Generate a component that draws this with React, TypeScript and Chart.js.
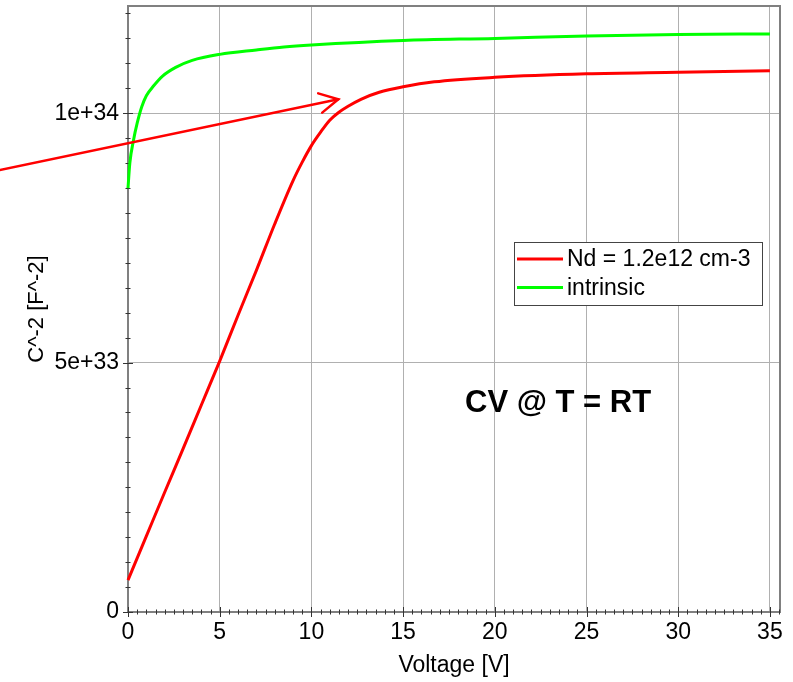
import React, { useEffect, useRef } from 'react';
import { Chart, registerables } from 'chart.js';

Chart.register(...registerables);

// ---- data ----
const seriesLabels = ['Nd = 1.2e12 cm-3', 'intrinsic'];
const seriesColors = ['#ff0000', '#00ff00'];

const voltageNd = [0, 1, 2, 3, 4, 5, 6, 7, 8, 9, 9.5, 10, 10.5, 11, 11.5, 12, 12.7, 13.7, 15, 16.7, 20, 25, 30, 35];
const cvNd = [0.64e33, 1.52e33, 2.4e33, 3.27e33, 4.15e33, 5.03e33, 5.95e33, 6.85e33, 7.78e33, 8.65e33, 9.02e33, 9.35e33, 9.62e33, 9.86e33, 10.02e33, 10.14e33, 10.28e33, 10.42e33, 10.53e33, 10.63e33, 10.72e33, 10.79e33, 10.82e33, 10.85e33];

const voltageIntrinsic = [0, 0.1, 0.3, 0.5, 0.75, 1.0, 1.4, 1.9, 2.6, 3.5, 5, 7, 8.5, 10, 15, 20, 25, 30, 35];
const cvIntrinsic = [8.5e33, 9.0e33, 9.46e33, 9.8e33, 10.13e33, 10.35e33, 10.55e33, 10.75e33, 10.92e33, 11.06e33, 11.18e33, 11.27e33, 11.33e33, 11.37e33, 11.46e33, 11.5e33, 11.55e33, 11.58e33, 11.59e33];

const xTicks = [0, 5, 10, 15, 20, 25, 30, 35];
const yTicks = [0, 5e33, 1e34];
const xMinorStep = 0.5;
const yMinorStep = 5e32;
const xRange = [0, 35.55];
const yRange = [0, 1.215e34];

const xTitle = 'Voltage [V]';
const yTitle = 'C^-2 [F^-2]';

const arrowFrom = [-7, 8.862e33];
const arrowTo = [11.47, 1.0281e34];
const noteText = 'CV @ T = RT';
const notePos = [23.45, 4.013e33];

const FONT = "'Liberation Sans', Arial, sans-serif";

const frameColor = '#808080';

const framePlugin = {
  id: 'frame',
  beforeDatasetsDraw(chart: any) {
    const { ctx, chartArea: ca, scales } = chart;
    const x = scales.x;
    const y = scales.y;
    ctx.save();
    ctx.strokeStyle = frameColor;
    ctx.lineWidth = 2;
    ctx.strokeRect(ca.left, ca.top, ca.right - ca.left, ca.bottom - ca.top);
    ctx.strokeStyle = '#333';
    ctx.lineWidth = 1;
    for (let v = xRange[0]; v <= xRange[1] + 1e-9; v += xMinorStep) {
      const px = Math.round(x.getPixelForValue(v)) + 0.5;
      const isMajor = xTicks.some((t) => Math.abs(t - v) < 1e-6);
      const h = isMajor ? 5 : 2.5;
      ctx.beginPath();
      ctx.moveTo(px, ca.bottom - h);
      ctx.lineTo(px, ca.bottom + h);
      ctx.stroke();
    }
    for (let v = yRange[0]; v <= yRange[1] + 1e20; v += yMinorStep) {
      const py = Math.round(y.getPixelForValue(v)) + 0.5;
      const isMajor = yTicks.some((t) => Math.abs(t - v) < 1e20);
      const w = isMajor ? 5 : 2.5;
      ctx.beginPath();
      ctx.moveTo(ca.left - w, py);
      ctx.lineTo(ca.left + w, py);
      ctx.stroke();
    }
    ctx.restore();
  },
  afterDatasetsDraw(chart: any) {
    const { ctx, chartArea: ca, scales } = chart;
    const x = scales.x;
    const y = scales.y;
    ctx.save();
    const x0 = x.getPixelForValue(arrowFrom[0]);
    const y0 = y.getPixelForValue(arrowFrom[1]);
    const x1 = x.getPixelForValue(arrowTo[0]);
    const y1 = y.getPixelForValue(arrowTo[1]);
    ctx.strokeStyle = '#ff0000';
    ctx.lineWidth = 2.5;
    ctx.lineCap = 'round';
    ctx.beginPath();
    ctx.moveTo(x0, y0);
    ctx.lineTo(x1, y1);
    ctx.stroke();
    const ang = Math.atan2(y1 - y0, x1 - x0);
    const hl = 21;
    const ha = (28 * Math.PI) / 180;
    ctx.beginPath();
    ctx.moveTo(x1 - hl * Math.cos(ang - ha), y1 - hl * Math.sin(ang - ha));
    ctx.lineTo(x1, y1);
    ctx.lineTo(x1 - hl * Math.cos(ang + ha), y1 - hl * Math.sin(ang + ha));
    ctx.stroke();

    ctx.fillStyle = '#000';
    ctx.font = `bold 31px ${FONT}`;
    ctx.textAlign = 'center';
    ctx.textBaseline = 'alphabetic';
    ctx.fillText(noteText, x.getPixelForValue(notePos[0]), y.getPixelForValue(notePos[1]));

    const bx = ca.right - 266;
    const by = ca.top + 236;
    const bw = 248;
    const bh = 63;
    ctx.fillStyle = '#fff';
    ctx.fillRect(bx, by, bw, bh);
    ctx.strokeStyle = '#444';
    ctx.lineWidth = 1;
    ctx.strokeRect(bx + 0.5, by + 0.5, bw, bh);
    ctx.font = `23px ${FONT}`;
    ctx.textAlign = 'left';
    ctx.textBaseline = 'middle';
    chart.data.datasets.forEach((ds: any, i: number) => {
      const ry = by + 17 + i * 28.5;
      ctx.strokeStyle = ds.borderColor;
      ctx.lineWidth = 3;
      ctx.lineCap = 'butt';
      ctx.beginPath();
      ctx.moveTo(bx + 3, ry);
      ctx.lineTo(bx + 49, ry);
      ctx.stroke();
      ctx.fillStyle = '#000';
      ctx.fillText(ds.label, bx + 53, ry + 1);
    });
    ctx.restore();
  },
};

export default function App() {
  const ref = useRef<HTMLCanvasElement>(null);
  useEffect(() => {
    Chart.defaults.font.family = FONT;
    Chart.defaults.color = '#000';
    const lineBase = {
      borderWidth: 3,
      pointRadius: 0,
      cubicInterpolationMode: 'monotone',
      clip: false,
    };
    const chart = new Chart(ref.current as HTMLCanvasElement, {
      type: 'line',
      data: {
        datasets: [
          {
            ...lineBase,
            label: seriesLabels[0],
            data: voltageNd.map((v, i) => ({ x: v, y: cvNd[i] })),
            borderColor: seriesColors[0],
            backgroundColor: seriesColors[0],
          },
          {
            ...lineBase,
            label: seriesLabels[1],
            data: voltageIntrinsic.map((v, i) => ({ x: v, y: cvIntrinsic[i] })),
            borderColor: seriesColors[1],
            backgroundColor: seriesColors[1],
          },
        ],
      },
      options: {
        animation: false,
        responsive: false,
        layout: { padding: { left: 0, top: 6, right: 13, bottom: 0 } },
        plugins: { legend: { display: false }, tooltip: { enabled: false } },
        scales: {
          x: {
            type: 'linear',
            min: xRange[0],
            max: xRange[1],
            afterBuildTicks: (s: any) => {
              s.ticks = xTicks.map((v) => ({ value: v }));
            },
            afterFit: (s: any) => {
              s.height = 70;
              s.paddingLeft = 0;
              s.paddingRight = 0;
            },
            grid: { color: '#b0b0b0', lineWidth: 1, drawTicks: false },
            border: { display: false },
            ticks: { padding: 7, font: { size: 23 }, color: '#000', maxRotation: 0 },
            title: { display: true, text: xTitle, font: { size: 23 }, color: '#000', padding: { top: 0, bottom: 3 } },
          },
          y: {
            type: 'linear',
            min: yRange[0],
            max: yRange[1],
            afterBuildTicks: (s: any) => {
              s.ticks = yTicks.map((v) => ({ value: v }));
            },
            afterFit: (s: any) => {
              s.width = 128;
              s.paddingTop = 0;
              s.paddingBottom = 0;
            },
            grid: { color: '#b0b0b0', lineWidth: 1, drawTicks: false },
            border: { display: false },
            ticks: {
              padding: 9,
              font: { size: 23 },
              color: '#000',
              callback: (v: any) => (Number(v) === 0 ? '0' : Number(v).toExponential()),
            },
            title: { display: true, text: yTitle, font: { size: 22 }, color: '#000', padding: { top: 24, bottom: 0 } },
          },
        },
      },
      plugins: [framePlugin],
    } as any);
    return () => chart.destroy();
  }, []);
  return (
    <div style={{ position: 'absolute', left: 0, top: 0, width: 793, height: 682, background: '#fff' }}>
      <canvas ref={ref} width={793} height={682} style={{ display: 'block' }} />
    </div>
  );
}
